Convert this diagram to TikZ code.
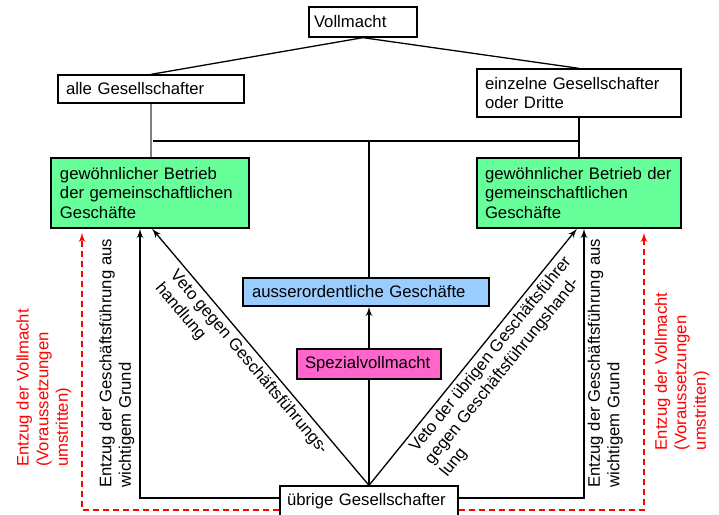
\documentclass[tikz,border=0pt]{standalone}
\usepackage{fontspec}
\setmainfont{Liberation Sans}
\usetikzlibrary{arrows}
\definecolor{gruen}{RGB}{102,255,153}
\definecolor{hellblau}{RGB}{153,204,255}
\definecolor{rosa}{RGB}{255,102,204}
\tikzstyle{box} = [rectangle, draw, align=left, inner ysep=0pt]
\tikzstyle{line} = [draw, -latex']
\tikzstyle{dashline} = [draw, red, dash pattern=on 3pt off 2pt, -latex']
\tikzstyle{lbl} = [align=left, inner sep=2pt]

\begin{document}
\begin{tikzpicture}[x=0.5pt, y=-0.5pt, line width=0.65pt, font=\fontsize{8.35}{9.8}\selectfont]
  \useasboundingbox (0,0) rectangle (719,515);
  \node [box, text width=49pt, inner xsep=2.5pt, minimum height=15pt] (voll) at (363,22) {Vollmacht};
  \node [box, text width=85pt, inner xsep=4pt, minimum height=14pt] (alle) at (151,89) {alle Gesellschafter};
  \node [box, text width=94pt, inner xsep=4pt, minimum height=24pt] (einz) at (579,93) {einzelne Gesellschafter\\oder Dritte};
  \node [box, fill=gruen, text width=90pt, inner xsep=4.5pt, minimum height=35pt] (gl) at (150,193) {gewöhnlicher Betrieb\\der gemeinschaftlichen\\Geschäfte};
  \node [box, fill=gruen, text width=94pt, inner xsep=4pt, minimum height=35pt] (gr) at (579,193) {gewöhnlicher Betrieb der\\gemeinschaftlichen\\Geschäfte};
  \node [box, fill=hellblau, text width=114pt, inner xsep=4.5pt, minimum height=14pt] (ao) at (366,292) {ausserordentliche Geschäfte};
  \node [box, fill=rosa, text width=64pt, inner xsep=4pt, minimum height=15pt] (spez) at (369,364) {Spezialvollmacht};
  \node [box, fill=white, text width=82pt, inner xsep=3.5pt, minimum height=15pt] (ueb) at (369,501) {übrige Gesellschafter};
  \coordinate (knot) at (153,141);
  \path [draw] (voll.south) -- (alle.north);
  \path [draw] (voll.south) -- (einz.north);
  \path [draw, gray] (alle.south) -- (alle.south |- gl.north);
  \path [draw] (einz.south) -- (gr.north);
  \path [draw] (knot) -- (knot -| einz.south);
  \path [draw] (spez.north |- knot) -- (spez.north |- ao.north);
  \path [line] (spez.north) -- (spez.north |- ao.south);
  \path [draw] (ueb.north) -- (spez.south);
  \path [line] (ueb.north) -- node [lbl, sloped, below, pos=0.51] {Veto gegen Geschäftsführungs-\\handlung} ([xshift=1pt]gl.south);
  \path [line] (ueb.north) -- node [lbl, sloped, below, pos=0.54] {Veto der übrigen Geschäftsführer\\gegen Geschäftsführungshand-\\lung} ([xshift=-1pt]gr.south);
  \path [line] ([yshift=1.5pt]ueb.west) -| node [lbl, rotate=90, anchor=south, inner sep=2.5pt, pos=0.75] {Entzug der Geschäftsführung aus\\wichtigem Grund} ([xshift=-5pt]gl.south);
  \path [line] ([yshift=1.5pt]ueb.east) -| node [lbl, rotate=90, anchor=north, inner sep=1.5pt, pos=0.75] {Entzug der Geschäftsführung aus\\wichtigem Grund} ([xshift=2.5pt]gr.south);
  \path [dashline] ([yshift=-4.5pt]ueb.west) -| node [lbl, rotate=90, anchor=south, inner sep=5pt, pos=0.72] {Entzug der Vollmacht\\(Voraussetzungen\\umstritten)} ([xshift=-34pt,yshift=-2pt]gl.south);
  \path [dashline] ([yshift=-4.5pt]ueb.east) -| node [lbl, rotate=90, anchor=north, inner sep=5pt, pos=0.75] {Entzug der Vollmacht\\(Voraussetzungen\\umstritten)} ([xshift=32.5pt,yshift=-2pt]gr.south);
\end{tikzpicture}
\end{document}
